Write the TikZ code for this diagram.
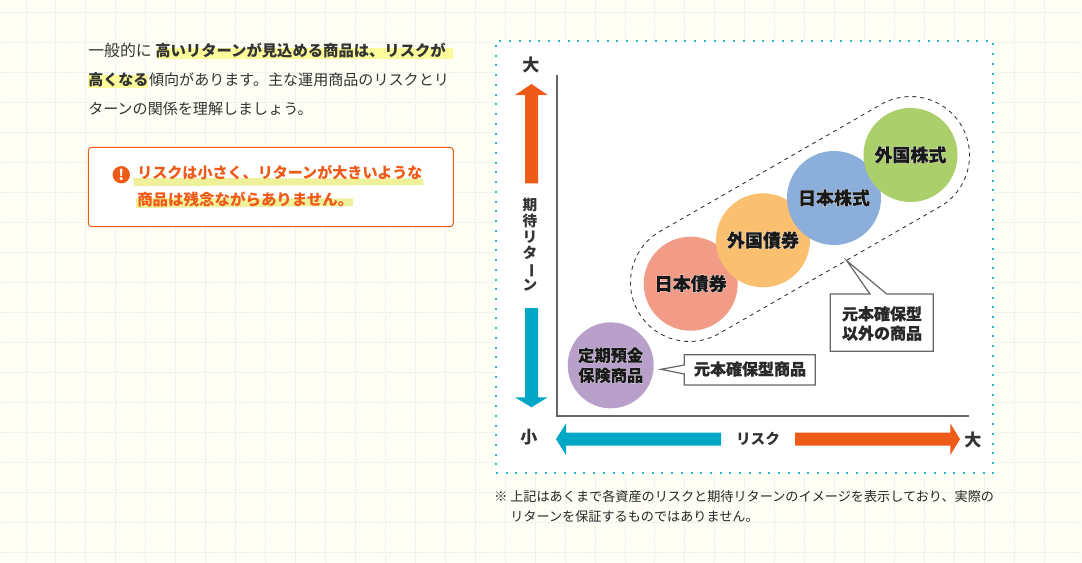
\documentclass[tikz,border=0pt]{standalone}
\usepackage{fontspec}
\usetikzlibrary{shapes.misc}
\setmainfont{Noto Sans CJK JP}
\newfontfamily\halofont[FakeBold=4]{Noto Sans CJK JP Bold}
\newfontfamily\heavyfont[FakeBold=0.5]{Noto Sans CJK JP Bold}
\newcommand\halotext[1]{\leavevmode\rlap{\halofont\color{white}#1}{\heavyfont #1}}
\definecolor{bgc}{HTML}{FFFEF5}
\definecolor{gridc}{HTML}{EAF4EC}
\definecolor{ora}{HTML}{EE5A17}
\definecolor{tea}{HTML}{00A8C6}
\definecolor{dotc}{HTML}{2AB5C9}
\definecolor{ink}{HTML}{333333}
\definecolor{yel}{HTML}{FBFB9C}
\definecolor{yel2}{HTML}{EEF09A}
\definecolor{axisc}{HTML}{666666}
\definecolor{cpur}{HTML}{B9A0CB}
\definecolor{csal}{HTML}{F29C87}
\definecolor{cora}{HTML}{FAC070}
\definecolor{cblu}{HTML}{8CAEDB}
\definecolor{cgre}{HTML}{ABCF6B}
\tikzset{
  x=0.75pt,y=-0.75pt,
  txt/.style={inner sep=0pt,anchor=base west,text=ink,font=\fontsize{11.3pt}{14pt}\selectfont},
  txtb/.style={txt,font=\fontsize{11.5pt}{14pt}\selectfont\bfseries},
  warn/.style={inner sep=0pt,anchor=base west,text=ora,font=\fontsize{11.3pt}{14pt}\selectfont\bfseries},
  ball/.style={circle,minimum size=70.5pt,inner sep=0pt,align=center,text=black!90,font=\fontsize{13.5pt}{15pt}\selectfont\bfseries},
  lab/.style={inner sep=0pt,align=center,text=ink!80!black,font=\fontsize{12pt}{14.5pt}\selectfont\bfseries},
  axlab/.style={inner sep=0pt,align=center,text=ink,font=\fontsize{12.8pt}{15pt}\selectfont\bfseries},
  note/.style={inner sep=0pt,anchor=base west,text=black!85,font=\fontsize{9.85pt}{12pt}\selectfont},
  callout/.style={draw=axisc,line width=0.9pt,fill=white,line join=miter},
}
\begin{document}
\begin{tikzpicture}
\useasboundingbox (0,0) rectangle (1082,562);
\fill[bgc] (0,0) rectangle (1082,562);
\foreach \i in {0,...,35}{
  \draw[gridc,line width=0.75pt,dash pattern=on 7pt off 0.8pt] ({26+29.95*(\i-1)},0) -- ({26+29.95*(\i-1)},562);
}
\foreach \i in {0,...,18}{
  \draw[gridc,line width=0.75pt,dash pattern=on 7pt off 0.8pt] (0,{12+30*\i}) -- (1082,{12+30*\i});
}
% left text highlights
\fill[yel] (156.7,47.7) rectangle (453,59);
\fill[yel] (88,75) rectangle (148,87.7);
\node[txt,font=\fontsize{11.9pt}{14pt}\selectfont] (l1a) at (88,56) {一般的に};
\node[txtb] (l1b) at (155,56) {高いリターンが見込める商品は、リスクが};
\node[txtb,font=\fontsize{11.3pt}{14pt}\selectfont\bfseries] (l2a) at (88,85) {高くなる};
\node[txt] (l2b) at (l2a.base east) {傾向があります。主な運用商品のリスクとリ};
\node[txt] (l3) at (88,114) {ターンの関係を理解しましょう。};
% warning box
\node[draw=ora,line width=0.75pt,fill=white,rounded corners=2.5pt,minimum width=273.75pt,minimum height=59.5pt,inner sep=0pt] (warnbox) at (270.8,187) {};
\fill[yel2] (133,178) -- (423,178.5) -- (423.5,185) -- (134,186) -- cycle;
\fill[yel2] (136,198) -- (353,198.5) -- (353,206) -- (136,208) -- cycle;
\node[circle,fill=ora,minimum size=13pt,inner sep=0pt,text=white,font=\fontsize{11pt}{11pt}\selectfont\bfseries] (excl) at (121.3,174.7) {!};
\node[warn] (w1) at (137,178) {リスクは小さく、リターンが大きいような};
\node[warn,font=\fontsize{11.6pt}{14pt}\selectfont\bfseries] (w2) at (137,205) {商品は残念ながらありません。};
% panel
\node[draw=dotc,fill=white,line width=1.5pt,dash pattern=on 1.5pt off 5.8pt,minimum width=373pt,minimum height=324pt,inner sep=0pt] (panel) at (744.5,256.8) {};
% axes
\coordinate (org) at (556.7,416);
\coordinate (ytop) at (556.7,75);
\coordinate (xend) at (969,416);
\draw[axisc,line width=1.5pt,line cap=butt] (ytop) -- (org) -- (xend);
% arrows
\fill[ora] (531.5,84) -- (547.7,95) -- (538,95) -- (538,183.3) -- (525,183.3) -- (525,95) -- (515,95) -- cycle;
\fill[tea] (525,308) -- (538,308) -- (538,397.3) -- (547.7,397.3) -- (531.5,407.3) -- (515,397.3) -- (525,397.3) -- cycle;
\fill[tea] (721,432.7) -- (721,445.7) -- (566,445.7) -- (566,455) -- (556,439.2) -- (566,423.3) -- (566,432.7) -- cycle;
\fill[ora] (795,432.7) -- (950.3,432.7) -- (950.3,423.3) -- (960,439.2) -- (950.3,455) -- (950.3,445.7) -- (795,445.7) -- cycle;
\node[axlab] (ytopl) at (531,65) {大};
\node[axlab,font=\fontsize{11pt}{12pt}\selectfont\bfseries] (ylab) at (530,245) {期\\待\\リ\\タ\\\rotatebox[origin=c]{-90}{ー}\\ン};
\node[axlab] (ybot) at (529,437) {小};
\node[axlab,font=\fontsize{11pt}{13pt}\selectfont\bfseries] (xlab) at (758,439) {リスク};
\node[axlab] (xbig) at (973,440) {大};
% capsule
\node[rounded rectangle,draw=ink,dashed,line width=0.65pt,minimum width=279.75pt,minimum height=88.5pt,inner sep=0pt,rotate=29.87] (capsule) at (800,219) {};
% circles
\node[ball,fill=cpur,minimum size=64.5pt,font=\fontsize{12.2pt}{15pt}\selectfont\bfseries] (teiki) at (610.7,365.3) {\halotext{定期預金}\\\halotext{保険商品}};
\node[ball,fill=csal] (jb) at (690.7,283.7) {\halotext{日本債券}};
\node[ball,fill=cora] (fb) at (763,240.3) {\raisebox{1.5pt}{\halotext{外国債券}}};
\node[ball,fill=cblu] (js) at (834,198) {\raisebox{1.5pt}{\halotext{日本株式}}};
\node[ball,fill=cgre] (fs) at (910.5,155) {\raisebox{1.5pt}{\halotext{外国株式}}};
% callouts
\coordinate (tipA) at (661,369.3);
\draw[callout] (684.3,354.7) -- (815.3,354.7) -- (815.3,385) -- (684.3,385) -- (684.3,374) -- (tipA) -- (684.3,365) -- cycle;
\node[lab] (capA) at (750,369) {\halotext{元本確保型商品}};
\coordinate (tipB) at (846.7,260.7);
\draw[callout] (830.3,294) -- (870,294) -- (tipB) -- (886.7,294) -- (933.3,294) -- (933.3,351.3) -- (830.3,351.3) -- cycle;
\node[lab] (capB) at (882,323.5) {\halotext{元本確保型}\\\halotext{以外の商品}};
% footnote
\node[note] (n1) at (494,501) {※ 上記はあくまで各資産のリスクと期待リターンのイメージを表示しており、実際の};
\node[note] (n2) at (510,521) {リターンを保証するものではありません。};
\end{tikzpicture}
\end{document}
